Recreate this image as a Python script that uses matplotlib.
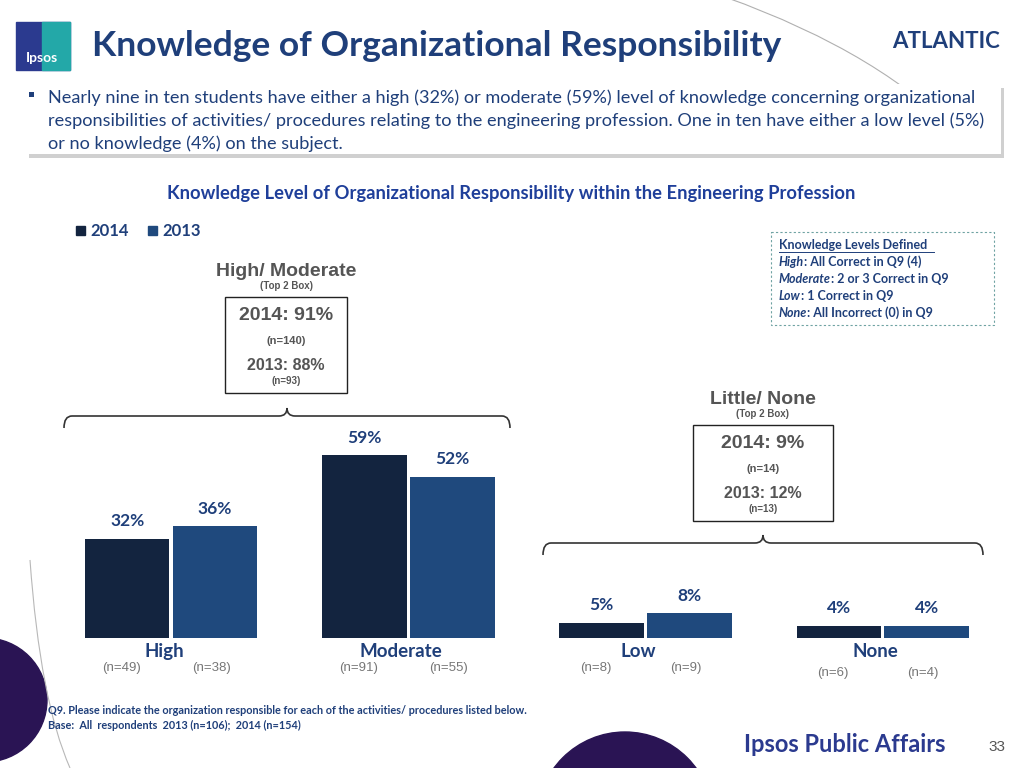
import matplotlib
matplotlib.use("Agg")
import matplotlib.pyplot as plt
from matplotlib.patches import Rectangle, Circle, PathPatch
from matplotlib.path import Path
import numpy as np

categories = ["High", "Moderate", "Low", "None"]
series_names = ["2014", "2013"]
values_2014 = [32, 59, 5, 4]
values_2013 = [36, 52, 8, 4]
n_2014 = ["(n=49)", "(n=91)", "(n=8)", "(n=6)"]
n_2013 = ["(n=38)", "(n=55)", "(n=9)", "(n=4)"]

C14 = "#13243f"
C13 = "#1f497d"
TITLE = "#1f3f7a"
FONT = "Lato"
ARIAL = "Liberation Sans"
plt.rcParams['font.family'] = [FONT, 'DejaVu Sans']

fig = plt.figure(figsize=(10.24, 7.68), dpi=100)
ov = fig.add_axes([0, 0, 1, 1])
ov.set_xlim(0, 1024); ov.set_ylim(768, 0); ov.axis("off")

# decorations
ov.add_patch(Circle((-15, 700), 62, color="#2a1454", zorder=0))
ov.add_patch(Circle((625, 820), 88, color="#2a1454", zorder=0))
ov.add_patch(PathPatch(Path([(640, -30), (820, 20), (920, 100)], [Path.MOVETO, Path.CURVE3, Path.CURVE3]), fill=False, ec="#b0b0b0", lw=0.8))
ov.add_patch(PathPatch(Path([(30, 560), (40, 700), (70, 768)], [Path.MOVETO, Path.CURVE3, Path.CURVE3]), fill=False, ec="#b8b8b8", lw=0.8))

# logo
ov.add_patch(Rectangle((16, 22), 54, 48, color="#2b3a8f"))
ov.add_patch(Rectangle((42, 22), 28, 48, color="#23a8a8"))
ov.text(42, 58, "Ipsos", color="white", fontsize=10, fontweight="bold", ha="center", va="center")

ov.text(92, 46, "Knowledge of Organizational Responsibility", color=TITLE, fontsize=25.5,
        fontweight="bold", va="center")
ov.text(1000, 42, "ATLANTIC", color=TITLE, fontsize=16, fontweight="bold", va="center", ha="right")

# summary box
ov.add_patch(Rectangle((29, 88), 975, 70, fc="#d0d0d0", ec="none", zorder=1))
ov.add_patch(Rectangle((26, 84), 975, 70, fc="white", ec="none", zorder=2))
ov.add_patch(Rectangle((29, 92), 5, 5, fc=TITLE, zorder=3))
lines = ["Nearly nine in ten students have either a high (32%) or moderate (59%) level of knowledge concerning organizational",
         "responsibilities of activities/ procedures relating to the engineering profession. One in ten have either a low level (5%)",
         "or no knowledge (4%) on the subject."]
for i, l in enumerate(lines):
    ov.text(48, 98 + 23 * i, l, color=TITLE, fontsize=13.1, va="center", zorder=3)

ov.text(511, 194, "Knowledge Level of Organizational Responsibility within the Engineering Profession",
        color="#1f3f9a", fontsize=13.2, fontweight="bold", ha="center", va="center")

# legend
ov.add_patch(Rectangle((76, 226), 9, 9, color=C14))
ov.text(90, 231, "2014", color=TITLE, fontsize=12, fontweight="bold", va="center")
ov.add_patch(Rectangle((148, 226), 9, 9, color=C13))
ov.text(162, 231, "2013", color=TITLE, fontsize=12, fontweight="bold", va="center")

# definitions box
ov.add_patch(Rectangle((771, 232), 223, 93, fill=False, ec="#6fa3a3", ls=(0, (2, 2)), lw=0.8))
defs = [("Knowledge Levels Defined ", ""), ("High", ": All Correct in Q9 (4)"), ("Moderate", ": 2 or 3 Correct in Q9"),
        ("Low", ": 1 Correct in Q9"), ("None", ": All Incorrect (0) in Q9")]
for i, (a, b) in enumerate(defs):
    y = 245 + 17 * i
    if i == 0:
        ov.text(779, y, a, color=TITLE, fontsize=9, fontweight="bold", va="center")
        ov.plot([779, 934], [y + 7, y + 7], color=TITLE, lw=0.7)
    else:
        tx = ov.text(779, y, a, color=TITLE, fontsize=9, fontweight="bold", fontstyle="italic", va="center")
        ov.annotate(b, xycoords=tx, xy=(1, 0.5), va="center", color=TITLE, fontsize=9, fontweight="bold")

def callout(cx, top, title, sub, l1, n1, l2, n2, w, h):
    kw = dict(color="#555555", fontweight="bold", ha="center", va="center", family=ARIAL)
    ov.text(cx, top - 26, title, fontsize=14, **kw)
    ov.text(cx, top - 11, sub, fontsize=7, **kw)
    ov.add_patch(Rectangle((cx - w / 2, top), w, h, fill=False, ec="#222222", lw=1))
    ov.text(cx, top + 19, l1, fontsize=14, **kw)
    ov.text(cx, top + 44, n1, fontsize=8, **kw)
    ov.text(cx, top + 68, l2, fontsize=11.5, **kw)
    ov.text(cx, top + 84, n2, fontsize=7, **kw)

callout(286, 297, "High/ Moderate", "(Top 2 Box)", "2014: 91%", "(n=140)", "2013: 88%", "(n=93)", 122, 96)
callout(763, 425, "Little/ None", "(Top 2 Box)", "2014: 9%", "(n=14)", "2013: 12%", "(n=13)", 140, 96)

def brace(x0, x1, y, d=12):
    m = (x0 + x1) / 2
    verts = [(x0, y + d), (x0, y), (x0 + 8, y),
             (m - 8, y), (m, y), (m, y - d / 1.5),
             (m, y), (m + 8, y),
             (x1 - 8, y), (x1, y), (x1, y + d)]
    codes = [Path.MOVETO, Path.CURVE3, Path.CURVE3, Path.LINETO, Path.CURVE3, Path.CURVE3,
             Path.CURVE3, Path.CURVE3, Path.LINETO, Path.CURVE3, Path.CURVE3]
    ov.add_patch(PathPatch(Path(verts, codes), fill=False, ec="#333333", lw=1.2))

brace(64, 510, 416)
brace(543, 983, 543)

# bar axes
s = 237.3
xmin, xmax = -0.65, 3.65
L = 171 - (0 - xmin) * s
ax = fig.add_axes([L / 1024, 1 - 638 / 768, (xmax - xmin) * s / 1024, 70 * 3.1 / 768])
ax.set_xlim(xmin, xmax); ax.set_ylim(0, 70)
ax.axis("off")
x = np.arange(len(categories))
w = 0.357
off = 0.185
ax.bar(x - off, values_2014, w, color=C14)
ax.bar(x + off, values_2013, w, color=C13)
for xi, v in zip(x - off, values_2014):
    ax.text(xi, v + 3, f"{v}%", ha="center", va="bottom", color=TITLE, fontsize=12.5, fontweight="bold")
for xi, v in zip(x + off, values_2013):
    ax.text(xi, v + 3, f"{v}%", ha="center", va="bottom", color=TITLE, fontsize=12.5, fontweight="bold")
for i, c in enumerate(categories):
    ax.text(i - 0.03, -4.3, c, ha="center", va="center", color=TITLE, fontsize=13.5, fontweight="bold", clip_on=False)
    dy = -9.8 if i < 3 else -11.3
    ax.text(i - 0.21, dy, n_2014[i], ha="center", va="center", color="#777777", fontsize=9.5, family=ARIAL, clip_on=False)
    ax.text(i + 0.17, dy, n_2013[i], ha="center", va="center", color="#777777", fontsize=9.5, family=ARIAL, clip_on=False)

ov.text(48, 711, "Q9. Please indicate the organization responsible for each of the activities/ procedures listed below.",
        color=TITLE, fontsize=7.8, fontweight="bold", va="center")
ov.text(48, 725, "Base:  All  respondents  2013 (n=106);  2014 (n=154)", color=TITLE, fontsize=7.8, fontweight="bold", va="center")
ov.text(945, 745, "Ipsos Public Affairs", color="#2b3a8f", fontsize=17, fontweight="bold", ha="right", va="center")
ov.text(1005, 747, "33", color="#555555", fontsize=11, ha="right", va="center", family=ARIAL)

fig.savefig("out.png", dpi=100)
